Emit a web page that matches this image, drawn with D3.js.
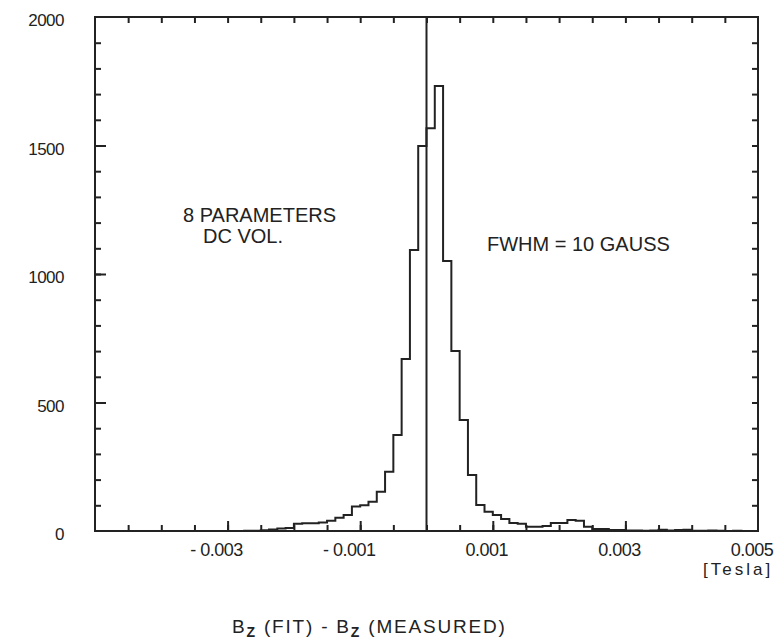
<!DOCTYPE html>
<html>
<head>
<meta charset="utf-8">
<script src="https://cdn.jsdelivr.net/npm/d3@7"></script>
<style>
  body { margin: 0; background: #fff; }
  text { font-family: "Liberation Sans", Arial, sans-serif; fill: #222; }
</style>
</head>
<body>
<div id="chart"></div>
<script>
// histogram bins of Bz(fit) - Bz(measured), width 0.000125 T, first bin starts at -0.003 T
var binWidth = 0.000125;
var binStart = -0.003;
var counts = [
  0, 0, 1, 1, 3, 6, 10, 12, 28, 30, 30, 33, 40, 52, 62, 95,
  100, 114, 153, 231, 374, 669, 1093, 1498, 1567, 1732, 1051, 700, 432, 218, 101, 75,
  62, 47, 31, 28, 17, 17, 19, 31, 31, 43, 40, 17, 8, 8, 4, 4,
  2, 2, 1, 2, 5, 2, 4, 5, 1, 1, 2, 1, 0, 1, 0, 0
];
var xTickLabels = [-0.003, -0.001, 0.001, 0.003, 0.005];
var yTickLabels = [0, 500, 1000, 1500, 2000];
var notesLeft = ["8 PARAMETERS", "DC VOL."];
var noteRight = "FWHM = 10 GAUSS";

var W = 776, H = 639;
var pLeft = 95, pRight = 758, pTop = 17, pBottom = 531;

var svg = d3.select("#chart").append("svg")
    .attr("width", W)
    .attr("height", H);

var x = d3.scaleLinear().domain([-0.005, 0.005]).range([pLeft, pRight]);
var y = d3.scaleLinear().domain([0, 2000]).range([pBottom, pTop]);

var ink = "#222";

// minor / major ticks, drawn inward on all four sides
var xMinor = d3.range(-0.0045, 0.00499, 0.0005);
var yMinor = d3.range(100, 2000, 100);

function tickStyle(g) {
    g.select(".domain").remove();
    g.selectAll("line").attr("stroke", ink).attr("stroke-width", 2);
}

svg.append("g").attr("transform", "translate(0," + pBottom + ")")
    .call(d3.axisBottom(x).tickValues(xMinor).tickSize(-6).tickFormat(""))
    .call(tickStyle);
svg.append("g").attr("transform", "translate(0," + pBottom + ")")
    .call(d3.axisBottom(x).tickValues(xTickLabels.slice(0, 4)).tickSize(-10).tickFormat(""))
    .call(tickStyle);
svg.append("g").attr("transform", "translate(0," + pTop + ")")
    .call(d3.axisTop(x).tickValues(xMinor).tickSize(-6).tickFormat(""))
    .call(tickStyle);
svg.append("g").attr("transform", "translate(" + pLeft + ",0)")
    .call(d3.axisLeft(y).tickValues(yMinor).tickSize(-6).tickFormat(""))
    .call(tickStyle);
svg.append("g").attr("transform", "translate(" + pLeft + ",0)")
    .call(d3.axisLeft(y).tickValues(yTickLabels.slice(1, 4)).tickSize(-11).tickFormat(""))
    .call(tickStyle);
svg.append("g").attr("transform", "translate(" + pRight + ",0)")
    .call(d3.axisRight(y).tickValues(yMinor).tickSize(-6).tickFormat(""))
    .call(tickStyle);

// frame
svg.append("rect")
    .attr("x", pLeft).attr("y", pTop)
    .attr("width", pRight - pLeft).attr("height", pBottom - pTop)
    .attr("fill", "none").attr("stroke", ink).attr("stroke-width", 2);

// tick labels
svg.selectAll(".ylab").data(yTickLabels).enter().append("text")
    .attr("class", "ylab")
    .attr("x", 64)
    .attr("y", function(d) { return y(d) + 3; })
    .attr("dy", "0.36em")
    .attr("text-anchor", "end")
    .style("font-size", "17px")
    .style("letter-spacing", "-0.5px")
    .text(function(d) { return d; });

svg.selectAll(".xlab").data(xTickLabels).enter().append("text")
    .attr("class", "xlab")
    .attr("x", function(d) { return x(d) - (d < 0 ? 11 : 6); })
    .attr("y", 556)
    .attr("text-anchor", "middle")
    .style("font-size", "18px")
    .style("letter-spacing", "-0.5px")
    .text(function(d) { return d < 0 ? "- " + Math.abs(d) : d; });

svg.append("text")
    .attr("x", 703).attr("y", 575)
    .style("font-size", "17px")
    .style("letter-spacing", "3px")
    .text("[Tesla]");

// axis title
var title = svg.append("text")
    .attr("x", 232).attr("y", 633)
    .style("font-size", "19px")
    .style("letter-spacing", "1.8px");
title.append("tspan").text("B");
title.append("tspan").attr("dy", 4).style("font-size", "14px").style("font-weight", "bold").text("Z");
title.append("tspan").attr("dy", -4).text(" (FIT) - B");
title.append("tspan").attr("dy", 4).style("font-size", "14px").style("font-weight", "bold").text("Z");
title.append("tspan").attr("dy", -4).text(" (MEASURED)");

// histogram as step outline
var pts = counts.map(function(c, i) { return [binStart + i * binWidth, c]; });
pts.push([binStart + counts.length * binWidth, counts[counts.length - 1]]);

var step = d3.line()
    .x(function(d) { return x(d[0]); })
    .y(function(d) { return y(d[1]); })
    .curve(d3.curveStepAfter);

svg.append("path")
    .datum(pts)
    .attr("d", step)
    .attr("fill", "none")
    .attr("stroke", ink)
    .attr("stroke-width", 2);

// zero line
svg.append("line")
    .attr("x1", x(0)).attr("x2", x(0))
    .attr("y1", y(0)).attr("y2", y(2000))
    .attr("stroke", ink).attr("stroke-width", 2);

// annotations
svg.selectAll(".noteL").data(notesLeft).enter().append("text")
    .attr("class", "noteL")
    .attr("x", function(d, i) { return i === 0 ? 183 : 203; })
    .attr("y", function(d, i) { return 222 + i * 21; })
    .style("font-size", "20px")
    .text(function(d) { return d; });

svg.append("text")
    .attr("x", 487).attr("y", 251)
    .style("font-size", "20px")
    .text(noteRight);
</script>
</body>
</html>
